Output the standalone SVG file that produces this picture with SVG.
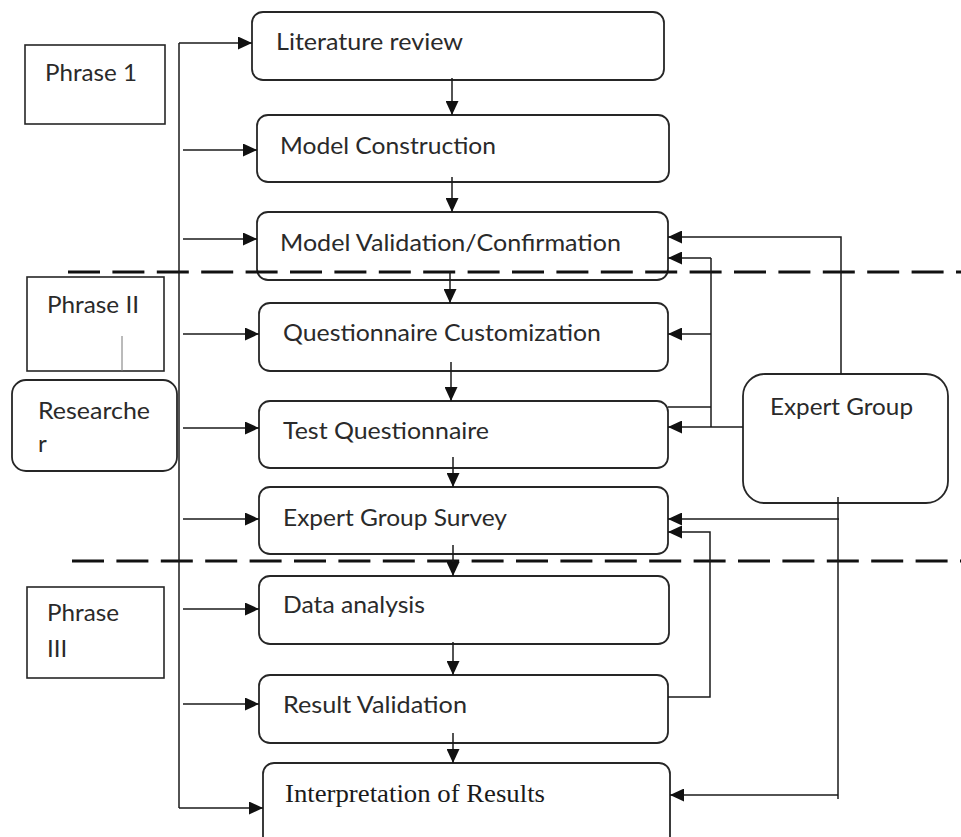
<svg xmlns="http://www.w3.org/2000/svg" width="961" height="837" viewBox="0 0 961 837">
<style>
  .box{fill:#fff;stroke:#262626;stroke-width:1.8}
  .sq{fill:#fff;stroke:#262626;stroke-width:1.6}
  .t{font-family:Lato,"Liberation Sans",sans-serif;font-size:24px;fill:#2a2a2a}
  .ts{font-family:"Liberation Serif","Times New Roman",serif;font-size:25px;fill:#1a1a1a}
  .ln{fill:none;stroke:#1a1a1a;stroke-width:1.5}
  .ar{fill:none;stroke:#1a1a1a;stroke-width:1.5;marker-end:url(#ah)}
  .dash{fill:none;stroke:#111;stroke-width:3.2;stroke-dasharray:32 12.4}
</style>
<defs>
  <marker id="ah" markerUnits="userSpaceOnUse" markerWidth="14" markerHeight="13" refX="14" refY="6.5" orient="auto">
    <path d="M0,0 L14,6.5 L0,13 z" fill="#111"/>
  </marker>
</defs>
<rect width="961" height="837" fill="#fff"/>

<g id="phase1">
  <rect class="sq" x="25" y="45" width="140" height="79"/>
  <text class="t" x="45" y="81" textLength="92" lengthAdjust="spacingAndGlyphs">Phrase 1</text>
</g>
<g id="phase2">
  <rect class="sq" x="27" y="277" width="137" height="94"/>
  <text class="t" x="47" y="313" textLength="92" lengthAdjust="spacingAndGlyphs">Phrase II</text>
  <line x1="122" y1="336" x2="122" y2="371" stroke="#777" stroke-width="1"/>
</g>
<g id="phase3">
  <rect class="sq" x="27" y="587" width="137" height="91"/>
  <text class="t" x="47" y="621" textLength="72" lengthAdjust="spacingAndGlyphs">Phrase</text>
  <text class="t" x="47" y="657">III</text>
</g>
<g id="researcher">
  <rect class="box" x="12" y="380" width="165" height="91" rx="14"/>
  <text class="t" x="38" y="419" textLength="112" lengthAdjust="spacingAndGlyphs">Researche</text>
  <text class="t" x="38" y="452">r</text>
</g>

<g id="literature-review">
  <rect class="box" x="252" y="12" width="412" height="68" rx="11"/>
  <text class="t" x="276" y="50" textLength="187" lengthAdjust="spacingAndGlyphs">Literature review</text>
</g>
<g id="model-construction">
  <rect class="box" x="257" y="115" width="412" height="67" rx="11"/>
  <text class="t" x="280" y="154" textLength="216" lengthAdjust="spacingAndGlyphs">Model Construction</text>
</g>
<g id="model-validation">
  <rect class="box" x="257" y="212" width="411" height="68" rx="11"/>
  <text class="t" x="280" y="251" textLength="341" lengthAdjust="spacingAndGlyphs">Model Validation/Confirmation</text>
</g>
<g id="questionnaire-customization">
  <rect class="box" x="259" y="303" width="409" height="68" rx="11"/>
  <text class="t" x="283" y="341" textLength="318" lengthAdjust="spacingAndGlyphs">Questionnaire Customization</text>
</g>
<g id="test-questionnaire">
  <rect class="box" x="259" y="401" width="409" height="67" rx="11"/>
  <text class="t" x="283" y="439" textLength="206" lengthAdjust="spacingAndGlyphs">Test Questionnaire</text>
</g>
<g id="expert-group-survey">
  <rect class="box" x="259" y="487" width="409" height="67" rx="11"/>
  <text class="t" x="283" y="526" textLength="224" lengthAdjust="spacingAndGlyphs">Expert Group Survey</text>
</g>
<g id="data-analysis">
  <rect class="box" x="259" y="576" width="410" height="68" rx="11"/>
  <text class="t" x="283" y="613" textLength="142" lengthAdjust="spacingAndGlyphs">Data analysis</text>
</g>
<g id="result-validation">
  <rect class="box" x="259" y="675" width="409" height="68" rx="11"/>
  <text class="t" x="283" y="713" textLength="184" lengthAdjust="spacingAndGlyphs">Result Validation</text>
</g>
<g id="interpretation">
  <rect class="box" x="263" y="763" width="407" height="95" rx="11"/>
  <text class="ts" x="285" y="802" textLength="260" lengthAdjust="spacingAndGlyphs">Interpretation of Results</text>
</g>
<g id="expert-group">
  <rect class="box" x="743" y="374" width="205" height="129" rx="22"/>
  <text class="t" x="770" y="415" textLength="143" lengthAdjust="spacingAndGlyphs">Expert Group</text>
</g>

<g id="dividers">
  <line class="dash" x1="68" y1="272" x2="961" y2="272"/>
  <line class="dash" x1="72" y1="561" x2="961" y2="561"/>
</g>

<g id="connectors">
  <!-- researcher bus -->
  <path class="ln" d="M179,808 L179,43"/>
  <path class="ar" d="M179,43 L252,43"/>
  <path class="ar" d="M183,150 L257,150"/>
  <path class="ar" d="M183,239 L257,239"/>
  <path class="ar" d="M183,334 L259,334"/>
  <path class="ar" d="M183,428 L259,428"/>
  <path class="ar" d="M183,519 L259,519"/>
  <path class="ar" d="M183,609 L259,609"/>
  <path class="ar" d="M183,704 L259,704"/>
  <path class="ar" d="M179,808 L263,808"/>
  <!-- main flow -->
  <path class="ar" d="M452,78 L452,115"/>
  <path class="ar" d="M452,177 L452,212"/>
  <path class="ar" d="M450,272 L450,303"/>
  <path class="ar" d="M451,362 L451,401"/>
  <path class="ar" d="M453,457 L453,487"/>
  <path class="ar" d="M453,545 L453,576"/>
  <path class="ar" d="M453,642 L453,675"/>
  <path class="ar" d="M453,733 L453,763"/>
  <!-- expert group feedback -->
  <path class="ar" d="M841,374 L841,237 L668,237"/>
  <path class="ln" d="M711,427 L711,258"/>
  <path class="ar" d="M711,258 L668,258"/>
  <path class="ar" d="M711,334 L668,334"/>
  <path class="ln" d="M668,407 L711,407"/>
  <path class="ar" d="M743,427 L668,427"/>
  <path class="ln" d="M838,497 L838,799"/>
  <path class="ar" d="M839,519 L668,519"/>
  <path class="ar" d="M838,795 L670,795"/>
  <path class="ar" d="M668,697 L710,697 L710,532 L668,532"/>
</g>
</svg>
